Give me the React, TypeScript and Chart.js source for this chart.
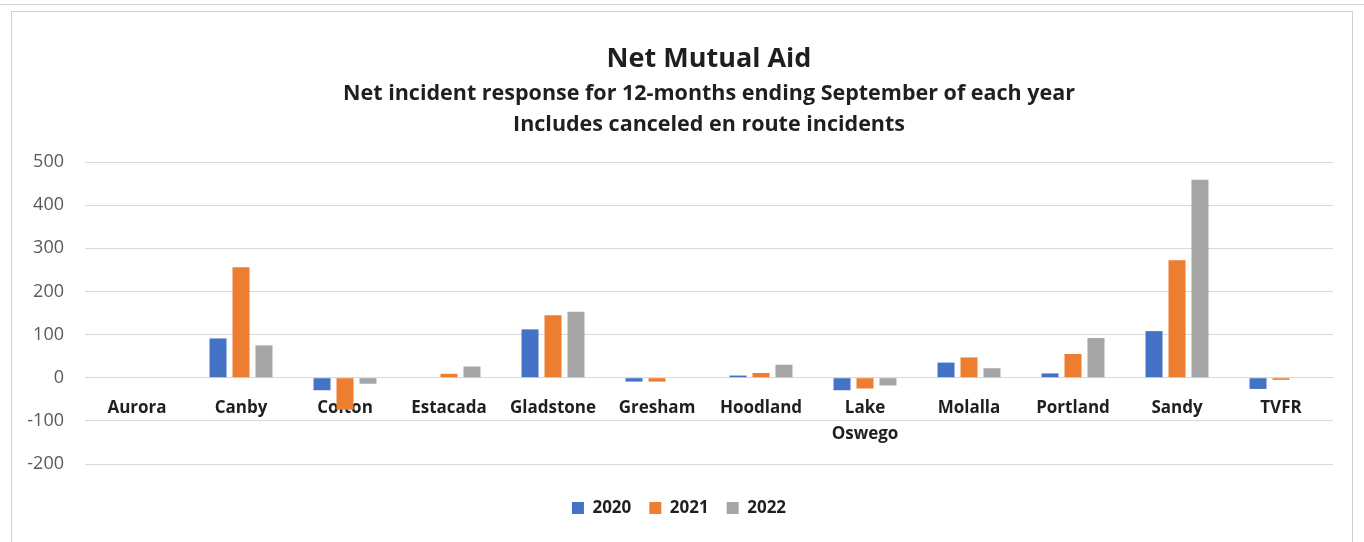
import React, { useEffect, useRef } from 'react';
import { Chart, registerables } from 'chart.js';

Chart.register(...registerables);

const categories: (string | string[])[] = [
  'Aurora', 'Canby', 'Colton', 'Estacada', 'Gladstone', 'Gresham',
  'Hoodland', ['Lake', 'Oswego'], 'Molalla', 'Portland', 'Sandy', 'TVFR',
];
const seriesNames = ['2020', '2021', '2022'];
const values2020 = [0, 91, -29, 0, 112, -9, 5, -29, 35, 10, 108, -26];
const values2021 = [0, 256, -74, 9, 145, -9, 11, -25, 47, 55, 272, -5];
const values2022 = [0, 75, -14, 26, 153, 0, 30, -18, 22, 92, 459, 0];
const seriesColors = ['#4472C4', '#ED7D31', '#A5A5A5'];
const yMin = -200;
const yMax = 500;
const yStep = 100;

const titleText = 'Net Mutual Aid';
const subtitleLines = [
  'Net incident response for 12-months ending September of each year',
  'Includes canceled en route incidents',
];

const FONT = '"Open Sans", "Noto Sans", sans-serif';
const DARK = '#1f1f1f';

export default function App() {
  const canvasRef = useRef<HTMLCanvasElement | null>(null);

  useEffect(() => {
    if (!canvasRef.current) return;
    const seriesValues = [values2020, values2021, values2022];
    const chart = new Chart(canvasRef.current, {
      type: 'bar',
      data: {
        labels: categories,
        datasets: seriesNames.map((name, i) => ({
          label: name,
          data: seriesValues[i],
          backgroundColor: seriesColors[i],
          borderWidth: 0,
          categoryPercentage: 0.663,
          barPercentage: 0.74,
        })),
      },
      options: {
        responsive: false,
        animation: false,
        maintainAspectRatio: false,
        layout: { padding: { left: 25, right: 31, top: 0, bottom: 15.5 } },
        plugins: {
          title: {
            display: true,
            fullSize: false,
            text: titleText,
            color: DARK,
            font: { family: FONT, size: 27, weight: 'bold', lineHeight: 1.2 },
            padding: { top: 42.8, bottom: 0 },
          },
          subtitle: {
            display: true,
            fullSize: false,
            text: subtitleLines,
            color: DARK,
            font: { family: FONT, size: 21.5, weight: 'bold', lineHeight: 31 / 21.5 },
            padding: { top: 3.3, bottom: 21.5 },
          },
          legend: {
            position: 'bottom',
            labels: {
              boxWidth: 12,
              boxHeight: 12,
              padding: 18,
              color: DARK,
              font: { family: FONT, size: 17, weight: 'bold' },
            },
            title: {
              display: true,
              text: '',
              font: { size: 1, lineHeight: 1 },
              padding: { top: 16.5, bottom: 0 },
            },
          },
          tooltip: { enabled: false },
        },
        scales: {
          x: {
            position: { y: 0 },
            z: 1,
            grid: { display: false, drawTicks: false },
            border: { display: true, color: '#d9d9d9' },
            ticks: {
              padding: 17,
              color: DARK,
              autoSkip: false,
              maxRotation: 0,
              font: { family: FONT, size: 17, weight: 'bold', lineHeight: 1.55 },
            },
          },
          y: {
            min: yMin,
            max: yMax,
            grid: { color: '#d9d9d9', drawTicks: false },
            border: { display: false },
            ticks: {
              stepSize: yStep,
              padding: 21,
              color: '#595959',
              font: { family: FONT, size: 18 },
            },
            afterFit: (scale: any) => {
              scale.width = 60;
            },
          },
        },
      } as any,
    });
    return () => chart.destroy();
  }, []);

  return (
    <div
      style={{
        position: 'absolute',
        left: 0,
        top: 0,
        width: 1364,
        height: 542,
        background: '#ffffff',
        overflow: 'hidden',
      }}
    >
      <div
        style={{
          position: 'absolute',
          left: 0,
          top: 4,
          width: 1364,
          height: 0,
          borderTop: '1px solid #d4d4d4',
        }}
      />
      <div
        style={{
          position: 'absolute',
          left: 11,
          top: 11,
          width: 1342,
          height: 540,
          border: '1px solid #d0d0d0',
          boxSizing: 'border-box',
        }}
      />
      <canvas
        ref={canvasRef}
        width={1364}
        height={542}
        style={{ position: 'absolute', left: 0, top: 0, width: 1364, height: 542 }}
      />
    </div>
  );
}
